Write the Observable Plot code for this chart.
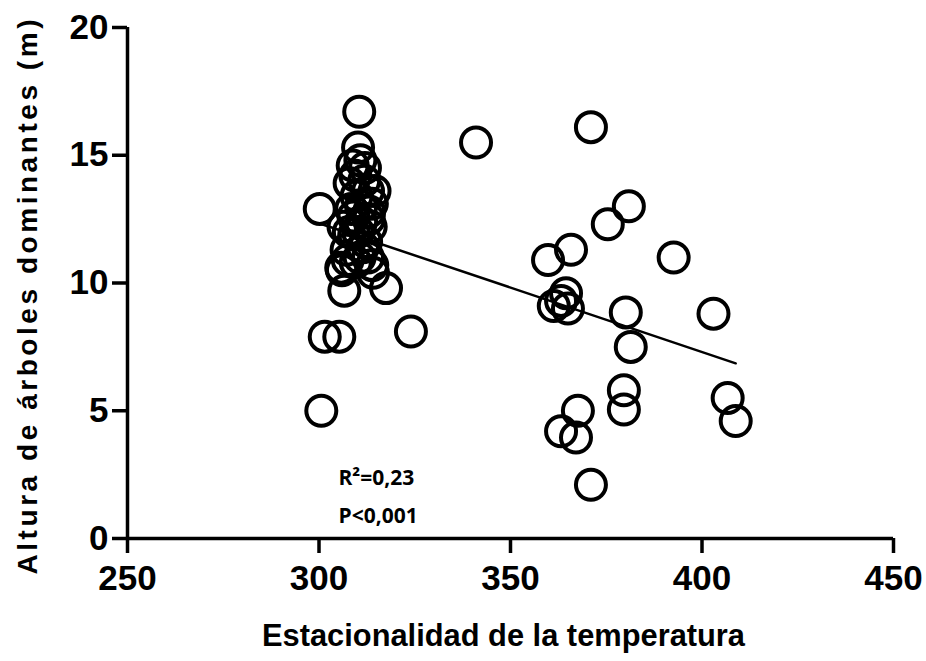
<!DOCTYPE html>
<html>
<head>
<meta charset="utf-8">
<script src="https://cdn.jsdelivr.net/npm/d3@7"></script>
<script src="https://cdn.jsdelivr.net/npm/@observablehq/plot@0.6"></script>
<style>
  body { margin: 0; background: #fff; }
  #chart svg { display: block; }
  #chart g[aria-label="x-axis tick label"],
  #chart g[aria-label="y-axis tick label"] { font-size: 35px; font-weight: bold; }
  #chart g[aria-label="x-axis tick"],
  #chart g[aria-label="y-axis tick"] { stroke-width: 3.5px; }
</style>
</head>
<body>
<div id="chart"></div>
<script>
// Temperature seasonality (x) vs. dominant tree height in metres (y), one entry per plot
const seasonality = [
  300.6, 300.2, 301.5, 305.3, 306.6, 305.8, 307.5, 310.5, 310.2, 310.8,
  309.5, 311.8, 312.8, 309.8, 313.8, 308.4, 313.1, 311.0, 306.4, 309.2,
  312.3, 307.2, 310.6, 314.1, 317.5, 324.0, 341.0, 313.5, 306.0, 313.9,
  308.0, 312.0, 311.0, 309.0, 313.0, 307.8, 311.5, 309.6, 312.8, 308.8,
  310.2, 314.5,
  371.0, 380.9, 375.4, 365.8, 359.8, 392.6, 364.5, 363.2, 361.3, 365.0,
  380.1, 403.0, 381.4, 379.6, 379.6, 367.6, 363.2, 367.1, 406.7, 408.8,
  371.0
];
const treeHeight = [
  5.0, 12.9, 7.9, 7.9, 9.7, 10.6, 10.9, 16.7, 15.3, 14.8,
  14.2, 14.0, 13.6, 13.4, 13.1, 12.9, 12.8, 12.4, 12.2, 11.9,
  11.6, 11.3, 11.0, 10.4, 9.8, 8.1, 15.5, 12.2, 10.5, 10.7,
  13.9, 14.5, 13.0, 12.6, 12.5, 12.0, 11.4, 10.8, 11.0, 14.6,
  12.0, 13.6,
  16.1, 13.0, 12.3, 11.3, 10.9, 11.0, 9.6, 9.3, 9.1, 9.0,
  8.85, 8.8, 7.5, 5.8, 5.05, 5.0, 4.2, 3.95, 5.5, 4.6,
  2.1
];

// Least-squares fit reported for the relationship
const fitIntercept = 27.46;
const fitSlope = -0.0504;
const statLines = ["R²=0,23", "P<0,001"];

const xTicks = [250, 300, 350, 400, 450];
const yTicks = [0, 5, 10, 15, 20];
const xTitle = "Estacionalidad de la temperatura";
const yTitle = "Altura de árboles dominantes (m)";

const points = seasonality.map((x, i) => ({x, y: treeHeight[i]}));
const [xMin, xMax] = d3.extent(seasonality);
const fitLine = [xMin, xMax].map(x => ({x, y: fitIntercept + fitSlope * x}));

const font = "'Liberation Sans', Arial, sans-serif";

const chart = Plot.plot({
  width: 926,
  height: 661,
  marginLeft: 127,
  marginRight: 33,
  marginTop: 27,
  marginBottom: 123,
  style: {fontFamily: font, background: "#fff", color: "#000"},
  x: {domain: [250, 450], axis: null},
  y: {domain: [0, 20], axis: null},
  marks: [
    Plot.axisX(xTicks, {
      tickSize: 15, tickPadding: 12, strokeWidth: 3.5,
      fontSize: 35, fontWeight: "bold", label: null
    }),
    Plot.axisY(yTicks, {
      tickSize: 15, tickPadding: 4, strokeWidth: 3.5,
      fontSize: 35, fontWeight: "bold", label: null
    }),
    Plot.ruleY([0], {stroke: "#000", strokeWidth: 3.5}),
    Plot.ruleX([250], {stroke: "#000", strokeWidth: 3.5}),
    Plot.line(fitLine, {x: "x", y: "y", stroke: "#000", strokeWidth: 2.5}),
    Plot.dot(points, {x: "x", y: "y", r: 15, stroke: "#000", strokeWidth: 4, fill: "none"}),
    Plot.text([statLines.join("\n")], {
      frameAnchor: "bottom-left", textAnchor: "start", lineAnchor: "bottom",
      dx: 211, dy: -16, lineHeight: 1.8,
      fontSize: 21, fontWeight: "bold", fill: "#000",
      fontFamily: "'Open Sans', 'Liberation Sans', sans-serif"
    }),
    Plot.text([xTitle], {
      frameAnchor: "bottom", textAnchor: "middle", lineAnchor: "middle",
      dx: -7, dy: 98, fontSize: 31, fontWeight: "bold", fill: "#000",
      fontFamily: "'Liberation Sans Narrow', 'Liberation Sans', sans-serif"
    }),
    Plot.text([yTitle], {
      frameAnchor: "left", textAnchor: "middle", lineAnchor: "middle",
      rotate: -90, dx: -99, dy: 14, fontSize: 28, fontWeight: "bold", fill: "#000"
    })
  ]
});

// Stretch the axis titles to their drawn lengths
const svg = d3.select(chart);
svg.selectAll("text").filter(function() { return this.textContent === xTitle; })
  .attr("textLength", 483).attr("lengthAdjust", "spacingAndGlyphs");
svg.selectAll("text").filter(function() { return this.textContent === yTitle; })
  .attr("textLength", 555).attr("lengthAdjust", "spacing");

document.getElementById("chart").append(chart);
</script>
</body>
</html>
